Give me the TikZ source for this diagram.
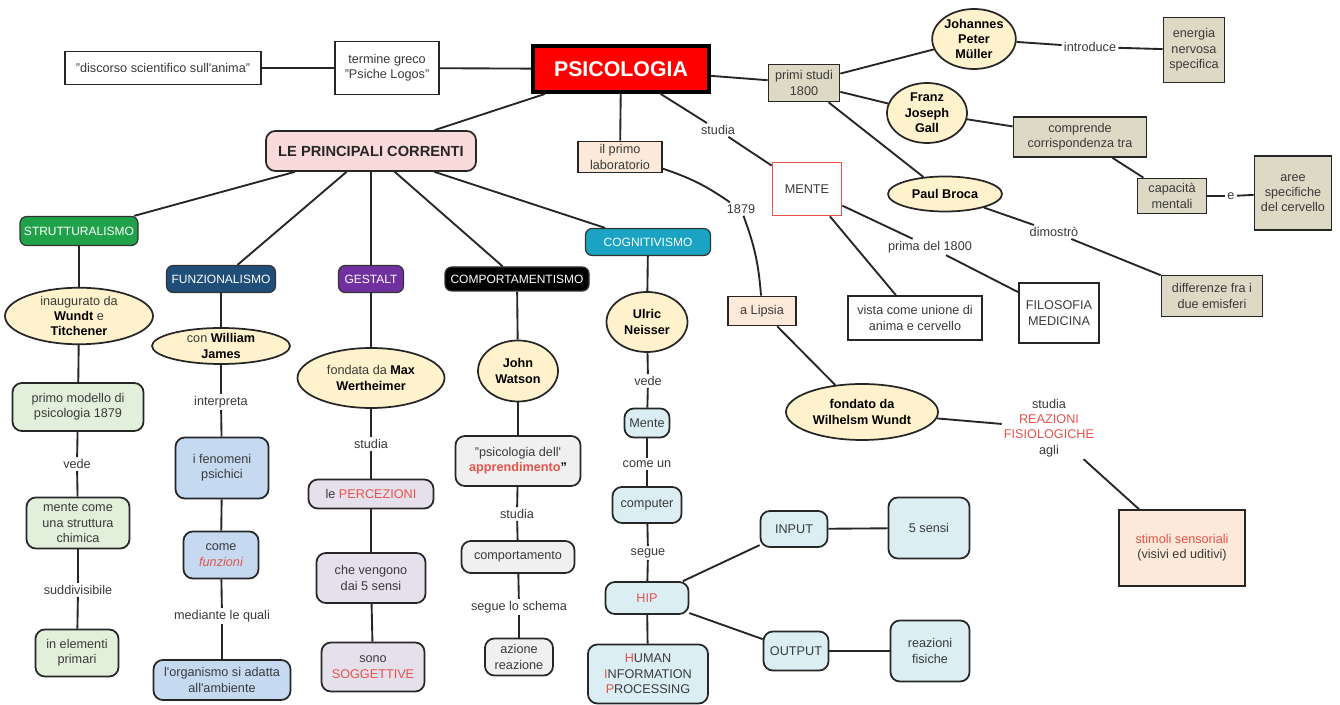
\documentclass[tikz,border=0pt]{standalone}
\usepackage{fontspec}
\setmainfont{Liberation Sans}
\usetikzlibrary{shapes.geometric}

\definecolor{txtgray}{HTML}{3A3A3A}
\definecolor{linegray}{HTML}{262626}
\definecolor{hl}{HTML}{E5534B}
\definecolor{pinkfill}{HTML}{F9DADA}
\definecolor{peachfill}{HTML}{FCE9D9}
\definecolor{khakifill}{HTML}{DDD9C4}
\definecolor{ovalfill}{HTML}{FFF2CC}
\definecolor{greenfill}{HTML}{E2EFDA}
\definecolor{bluefill}{HTML}{C5D9F1}
\definecolor{lilacfill}{HTML}{E5E0EC}
\definecolor{grayfill}{HTML}{F0F0F0}
\definecolor{cyanfill}{HTML}{DAEEF3}
\definecolor{struttgreen}{HTML}{1FA24A}
\definecolor{funzblue}{HTML}{1F4E79}
\definecolor{gestaltpurple}{HTML}{7030A0}
\definecolor{cognitteal}{HTML}{1AA3C2}

\newcommand{\bname}[1]{{\color{black}\bfseries #1}}

\tikzstyle{base_box} = [rectangle, draw=linegray, line width=1.3pt, text=txtgray, align=center, inner sep=2pt]
\tikzstyle{plain_box} = [base_box, fill=white]
\tikzstyle{khaki_box} = [base_box, fill=khakifill]
\tikzstyle{peach_box} = [base_box, fill=peachfill]
\tikzstyle{soft_box} = [base_box, rounded corners=7pt]
\tikzstyle{green_box} = [soft_box, fill=greenfill]
\tikzstyle{blue_box} = [soft_box, fill=bluefill]
\tikzstyle{lilac_box} = [soft_box, fill=lilacfill]
\tikzstyle{gray_box} = [soft_box, fill=grayfill]
\tikzstyle{cyan_box} = [soft_box, fill=cyanfill]
\tikzstyle{cat_box} = [rectangle, rounded corners=5pt, draw=black!80, line width=0.9pt, text=white, inner sep=1pt, font=\fontsize{9}{11}\selectfont]
\tikzstyle{root_box} = [rectangle, fill=red, draw=black, line width=3pt, text=white, font=\fontsize{16}{18}\selectfont\bfseries]
\tikzstyle{name_oval} = [ellipse, draw=linegray, line width=1.3pt, fill=ovalfill, text=txtgray, align=center, inner sep=0pt]
\tikzstyle{link_lbl} = [text=txtgray, inner sep=1.5pt, align=center]
\tikzstyle{conn} = [draw=linegray, line width=1.4pt]
\tikzset{box_size/.style 2 args={minimum width=#1*0.75pt, minimum height=#2*0.75pt}}

\begin{document}
\begin{tikzpicture}[x=0.75pt, y=-0.75pt, font=\fontsize{9.5}{11.5}\selectfont]
\fill[white] (0,0) rectangle (1340,705);
\useasboundingbox (0,0) rectangle (1340,705);

% centro
\node (psi) [root_box, box_size={176}{46}] at (621,69) {PSICOLOGIA};
\node (greco) [plain_box, box_size={104}{53}] at (387,68) {termine greco\\"Psiche Logos"};
\node (anima) [plain_box, box_size={196}{33}] at (163,68) {"discorso scientifico sull\textquotesingle{}anima"};
\node (correnti) [soft_box, fill=pinkfill, text=black!85, box_size={210}{40}, font=\fontsize{11}{13}\selectfont\bfseries] at (371,151) {LE PRINCIPALI CORRENTI};

% storia
\node (lab) [peach_box, box_size={84}{31}] at (620,157) {il primo\\laboratorio};
\node (studia1) [link_lbl] at (718,130) {studia};
\node (mente) [plain_box, draw=hl, box_size={69}{53}] at (807,189) {MENTE};
\node (primi) [khaki_box, box_size={71}{37}] at (804,83) {primi studi\\1800};
\node (muller) [name_oval, box_size={78}{60}] at (974,39) {\bname{Johannes}\\\bname{Peter}\\\bname{Müller}};
\node (introduce) [link_lbl] at (1090,47) {introduce};
\node (energia) [khaki_box, box_size={61}{65}] at (1194,50) {energia\\nervosa\\specifica};
\node (gall) [name_oval, box_size={80}{60}] at (927,113) {\bname{Franz}\\\bname{Joseph}\\\bname{Gall}};
\node (comprende) [khaki_box, box_size={133}{40}] at (1080,137) {comprende\\corrispondenza tra};
\node (capacita) [khaki_box, box_size={69}{35}] at (1172,196) {capacità\\mentali};
\node (e_lbl) [link_lbl] at (1231,196) {e};
\node (aree) [khaki_box, box_size={77}{74}] at (1293,193) {aree\\specifiche\\del cervello};
\node (broca) [name_oval, box_size={114}{35}] at (945,194) {\bname{Paul Broca}};
\node (dimostro) [link_lbl] at (1054,232) {dimostrò};
\node (emisferi) [khaki_box, box_size={101}{41}] at (1212,296) {differenze fra i\\due emisferi};
\node (prima) [link_lbl] at (930,247) {prima del 1800};
\node (filosofia) [plain_box, box_size={80}{60}] at (1059,313) {FILOSOFIA\\MEDICINA};
\node (vista) [plain_box, box_size={134}{44}] at (915,318) {vista come unione di\\anima e cervello};
\node (anno) [link_lbl] at (741,209) {1879};
\node (lipsia) [peach_box, box_size={68}{29}] at (762,311) {a Lipsia};
\node (wundt) [name_oval, box_size={152}{56}] at (862,412) {\bname{fondato da}\\\bname{Wilhelsm Wundt}};
\node (reazioni) [link_lbl] at (1049,428) {studia\\\textcolor{hl}{REAZIONI}\\\textcolor{hl}{FISIOLOGICHE}\\agli};
\node (stimoli) [peach_box, box_size={126}{76}] at (1182,548) {\textcolor{hl}{stimoli sensoriali}\\(visivi ed uditivi)};

% correnti
\node (strutt) [cat_box, fill=struttgreen, box_size={118}{29}] at (79,231) {STRUTTURALISMO};
\node (funz) [cat_box, fill=funzblue, box_size={109}{27}] at (221,279) {FUNZIONALISMO};
\node (gestalt) [cat_box, fill=gestaltpurple, box_size={65}{27}] at (371,279) {GESTALT};
\node (comport) [cat_box, fill=black, box_size={144}{24}] at (517,279) {COMPORTAMENTISMO};
\node (cognit) [cat_box, fill=cognitteal, box_size={125}{27}] at (648,242) {COGNITIVISMO};

% strutturalismo
\node (inaug) [name_oval, box_size={148}{56}] at (79,316) {inaugurato da\\\bname{Wundt} e\\\bname{Titchener}};
\node (modello) [green_box, box_size={131}{48}] at (78,407) {primo modello di\\psicologia 1879};
\node (vede1) [link_lbl] at (77,464) {vede};
\node (chimica) [green_box, box_size={103}{51}] at (78,523) {mente come\\una struttura\\chimica};
\node (suddiv) [link_lbl] at (78,590) {suddivisibile};
\node (primari) [green_box, box_size={83}{47}] at (77,653) {in elementi\\primari};

% funzionalismo
\node (james) [name_oval, box_size={138}{36}] at (221,346) {con \bname{William}\\\bname{James}};
\node (interpreta) [link_lbl] at (221,402) {interpreta};
\node (fenomeni) [blue_box, box_size={93}{61}] at (222,468) {i fenomeni\\psichici};
\node (funzioni) [blue_box, box_size={75}{47}] at (221,555) {come\\\textcolor{hl}{\itshape funzioni}};
\node (mediante) [link_lbl] at (222,616) {mediante le quali};
\node (organismo) [blue_box, box_size={137}{40}] at (222,680) {l\textquotesingle{}organismo si adatta\\all\textquotesingle{}ambiente};

% gestalt
\node (max) [name_oval, box_size={147}{60}] at (371,378) {fondata da \bname{Max}\\\bname{Wertheimer}};
\node (studia2) [link_lbl] at (371,444) {studia};
\node (percezioni) [lilac_box, box_size={125}{29}] at (371,494) {le \textcolor{hl}{PERCEZIONI}};
\node (sensi5) [lilac_box, box_size={109}{50}] at (371,578) {che vengono\\dai 5 sensi};
\node (soggettive) [lilac_box, box_size={103}{49}] at (373,667) {sono\\\textcolor{hl}{SOGGETTIVE}};

% comportamentismo
\node (watson) [name_oval, box_size={80}{61}] at (518,371) {\bname{John}\\\bname{Watson}};
\node (apprend) [gray_box, box_size={125}{50}] at (518,461) {"psicologia dell\textquotesingle\\\bname{\textcolor{hl}{apprendimento}"}};
\node (studia3) [link_lbl] at (517,514) {studia};
\node (comportamento) [gray_box, box_size={113}{32}] at (518,557) {comportamento};
\node (schema) [link_lbl] at (519,607) {segue lo schema};
\node (azione) [gray_box, box_size={68}{37}] at (519,657) {azione\\reazione};

% cognitivismo
\node (neisser) [name_oval, box_size={81}{60}] at (647,322) {\bname{Ulric}\\\bname{Neisser}};
\node (vede2) [link_lbl] at (648,381) {vede};
\node (mente2) [cyan_box, box_size={45}{29}] at (647,423) {Mente};
\node (comeun) [link_lbl] at (647,464) {come un};
\node (computer) [cyan_box, box_size={69}{36}] at (647,505) {computer};
\node (segue) [link_lbl] at (648,553) {segue};
\node (hip) [cyan_box, box_size={83}{32}] at (647,598) {\textcolor{hl}{HIP}};
\node (human) [cyan_box, box_size={120}{59}] at (648,674) {\textcolor{hl}{H}UMAN\\\textcolor{hl}{I}NFORMATION\\\textcolor{hl}{P}ROCESSING};
\node (input) [cyan_box, box_size={67}{36}] at (794,529) {INPUT};
\node (output) [cyan_box, box_size={65}{39}] at (796,651) {OUTPUT};
\node (sensi) [cyan_box, box_size={81}{61}] at (929,528) {5 sensi};
\node (fisiche) [cyan_box, box_size={79}{61}] at (930,651) {reazioni\\fisiche};

\foreach \a/\b in {anima/greco, greco/psi, psi/correnti, psi/lab, psi/studia1, studia1/mente,
    psi/primi, primi/muller, muller/introduce, introduce/energia, primi/gall, gall/comprende,
    comprende/capacita, capacita/e_lbl, e_lbl/aree, primi/broca, broca/dimostro, dimostro/emisferi,
    mente/prima, prima/filosofia, mente/vista, lipsia/wundt, wundt/reazioni, reazioni/stimoli,
    correnti/strutt, correnti/funz, correnti/gestalt, correnti/comport, correnti/cognit,
    strutt/inaug, inaug/modello, modello/vede1, vede1/chimica, chimica/suddiv, suddiv/primari,
    funz/james, james/interpreta, interpreta/fenomeni, fenomeni/funzioni, funzioni/mediante, mediante/organismo,
    gestalt/max, max/studia2, studia2/percezioni, percezioni/sensi5, sensi5/soggettive,
    comport/watson, watson/apprend, apprend/studia3, studia3/comportamento, comportamento/schema, schema/azione,
    cognit/neisser, neisser/vede2, vede2/mente2, mente2/comeun, comeun/computer, computer/segue, segue/hip,
    hip/human, hip/input, hip/output, input/sensi, output/fisiche}
  \draw[conn] (\a) -- (\b);
\draw[conn] (lab) to[bend left=8] (anno);
\draw[conn] (anno) to[bend left=8] (lipsia);
\end{tikzpicture}
\end{document}
